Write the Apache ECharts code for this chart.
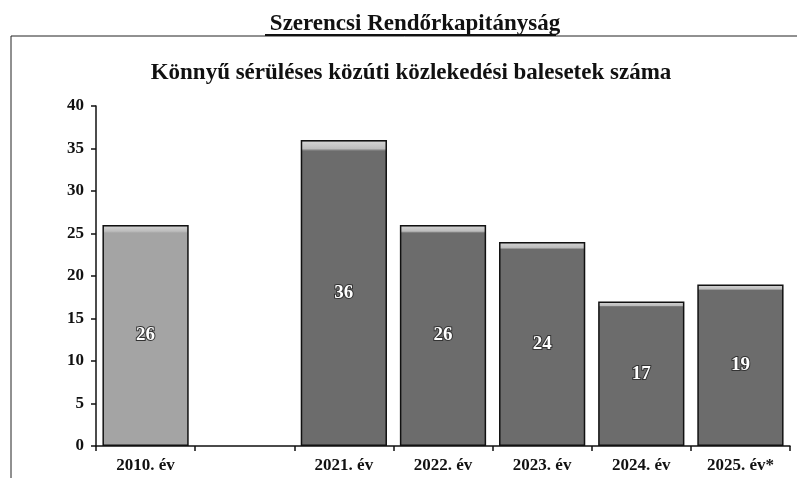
<!DOCTYPE html>
<html>
<head>
<meta charset="utf-8">
<script src="https://cdn.jsdelivr.net/npm/echarts@6/dist/echarts.min.js"></script>
<style>
  html, body { margin: 0; padding: 0; background: #fff; }
  #main { width: 797px; height: 478px; }
</style>
</head>
<body>
<div id="main"></div>
<script>
const categories = ['2010. év', '', '2021. év', '2022. év', '2023. év', '2024. év', '2025. év*']
const values = [26, null, 36, 26, 24, 17, 19]
const yTicks = [0, 5, 10, 15, 20, 25, 30, 35, 40]

const serif = '"Liberation Serif", "Times New Roman", serif'

// felső világos sáv a hasábokon
function barColor(base) {
    return {
        type: 'linear', x: 0, y: 0, x2: 0, y2: 1,
        colorStops: [
            { offset: 0, color: '#8a8a8a' },
            { offset: 0.008, color: '#d0d0d0' },
            { offset: 0.028, color: '#bdbdbd' },
            { offset: 0.036, color: base },
            { offset: 1, color: base }
        ]
    }
}

let myChart = echarts.init(document.getElementById('main'))

let options = {
    backgroundColor: '#fff',
    animation: false,
    title: [{
        text: 'Szerencsi Rendőrkapitányság',
        left: 410, top: 8, textAlign: 'center',
        textStyle: { fontFamily: serif, fontSize: 23, fontWeight: 'bold', color: '#111' }
    }, {
        text: 'Könnyű sérüléses közúti közlekedési balesetek száma',
        left: 406, top: 57, textAlign: 'center',
        textStyle: { fontFamily: serif, fontSize: 23, fontWeight: 'bold', color: '#111' }
    }],
    graphic: [{
        type: 'rect',
        shape: { x: 11, y: 36, width: 800, height: 500 },
        style: { fill: 'none', stroke: '#222', lineWidth: 1 }
    }, {
        type: 'line',
        shape: { x1: 265, y1: 35, x2: 556, y2: 35 },
        style: { stroke: '#111', lineWidth: 2 }
    }],
    grid: { left: 96, right: 7, top: 106, bottom: 32 },
    xAxis: {
        type: 'category',
        data: categories,
        axisLine: { lineStyle: { color: '#111', width: 1.5 } },
        axisTick: { show: true, length: 5, lineStyle: { color: '#111', width: 1.5 } },
        axisLabel: { fontFamily: serif, fontSize: 17, fontWeight: 'bold', color: '#111', margin: 11, interval: 0 }
    },
    yAxis: {
        type: 'value',
        min: yTicks[0],
        max: yTicks[yTicks.length - 1],
        interval: 5,
        axisLine: { show: true, lineStyle: { color: '#111', width: 1.5 } },
        axisTick: { show: true, length: 5, lineStyle: { color: '#111', width: 1.5 } },
        splitLine: { show: false },
        axisLabel: { fontFamily: serif, fontSize: 17, fontWeight: 'bold', color: '#111', margin: 12 }
    },
    series: [{
        name: 'balesetek',
        type: 'bar',
        barCategoryGap: '13%',
        data: values.map(function (v, i) {
            return {
                value: v,
                itemStyle: { color: barColor(i === 0 ? '#a4a4a4' : '#6c6c6c') }
            }
        }),
        itemStyle: { borderColor: '#111', borderWidth: 1.5 },
        label: {
            show: true,
            position: 'inside',
            fontFamily: serif,
            fontSize: 19,
            fontWeight: 'bold',
            color: '#fff',
            textBorderColor: '#333',
            textBorderWidth: 2
        }
    }]
}

myChart.setOption(options)
</script>
</body>
</html>
